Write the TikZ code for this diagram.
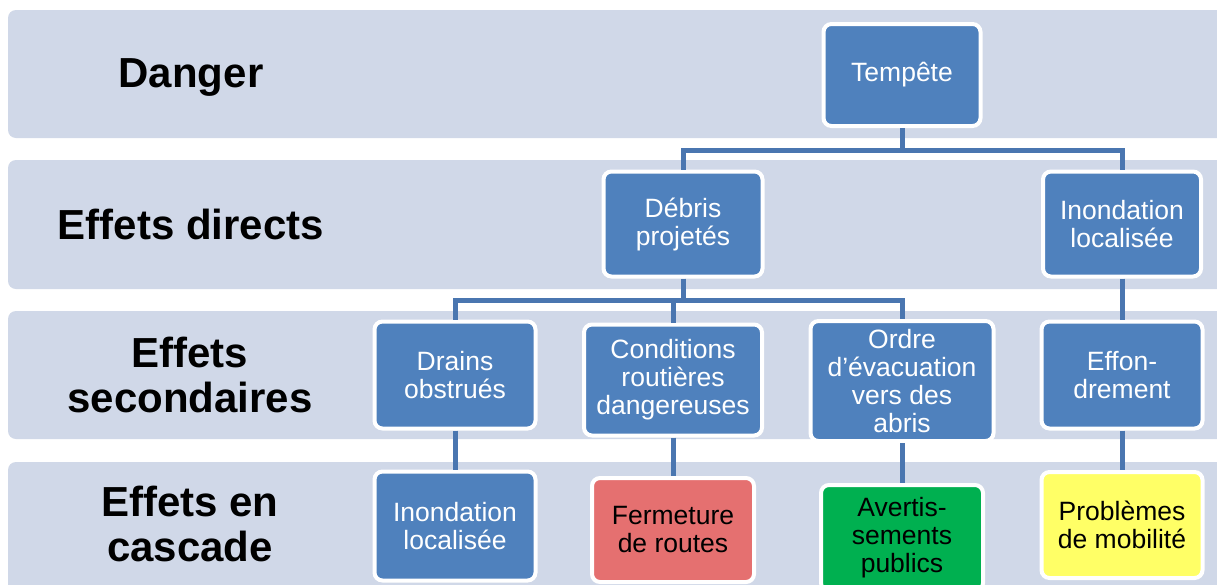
\documentclass[tikz,border=0pt]{standalone}
\usepackage{fontspec}
\setmainfont{Liberation Sans}
\definecolor{bandcol}{HTML}{D0D8E8}
\definecolor{nblue}{HTML}{4F81BD}
\definecolor{lineblue}{HTML}{4A76B0}
\definecolor{nred}{HTML}{E57070}
\definecolor{ngreen}{HTML}{00B050}
\definecolor{nyellow}{HTML}{FFFF66}
\begin{document}
\begin{tikzpicture}[x=1pt,y=-1pt,
  bandbox/.style={fill=bandcol, rounded corners=8pt},
  box/.style={draw=white, line width=4pt, rounded corners=8pt, fill=nblue, text=white,
    font=\fontsize{26.5}{28}\selectfont, align=center, inner sep=0pt},
  lab/.style={font=\fontsize{42}{45}\selectfont\bfseries, align=center, text=black},
  conn/.style={draw=lineblue, line width=5pt}]
\useasboundingbox (0,0) rectangle (1217,584);
\fill[white] (0,0) rectangle (1217,584);
\clip (0,0) rectangle (1217,584);
% bands
\path[bandbox] (8,10) rectangle (1240,138);
\path[bandbox] (8,160) rectangle (1240,289);
\path[bandbox] (8,311) rectangle (1240,439);
\path[bandbox] (8,462) rectangle (1240,620);
% labels
\node[lab] (L1) at (191,77) {Danger};
\node[lab] (L2) at (191,224) {Effets directs};
\node[lab] (L3) at (190,375) {Effets\\secondaires};
\node[lab] (L4) at (190,524) {Effets en\\cascade};
% nodes
\node[box, minimum width=157pt, minimum height=102pt] (T) at (902,75) {Tempête};
\node[box, minimum width=159pt, minimum height=105pt] (D) at (683,224) {Débris\\projetés};
\node[box, minimum width=158pt, minimum height=105pt] (I1) at (1122,224) {Inondation\\localisée};
\node[box, minimum width=161pt, minimum height=107pt] (Dr) at (455,375) {Drains\\obstrués};
\node[box, minimum width=178pt, minimum height=111pt] (C) at (673,380) {Conditions\\routières\\dangereuses};
\node[box, minimum width=183pt, minimum height=120pt] (O) at (902,381) {Ordre\\d’évacuation\\vers des\\abris};
\node[box, minimum width=161pt, minimum height=107pt] (E) at (1122,375) {Effon-\\drement};
\node[box, minimum width=161pt, minimum height=109pt] (I2) at (455,526) {Inondation\\localisée};
\node[box, fill=nred, text=black, minimum width=162pt, minimum height=104pt] (F) at (673,530) {Fermeture\\de routes};
\node[box, fill=ngreen, text=black, minimum width=162pt, minimum height=106pt] (A) at (902,538) {Avertis-\\sements\\publics};
\node[box, fill=nyellow, text=black, minimum width=161pt, minimum height=106pt] (P) at (1122,525) {Problèmes\\de mobilité};
% connectors
\coordinate (bus1) at (0,150);
\coordinate (bus2) at (0,300);
\draw[conn] (T.south) -- (T.south |- bus1);
\draw[conn] (D.north) |- (I1.north |- bus1) -- (I1.north);
\draw[conn] (D.south) -- (D.south |- bus2);
\draw[conn] (Dr.north) |- (O.north |- bus2) -- (O.north);
\draw[conn] (C.north) -- (C.north |- bus2);
\draw[conn] (I1.south) -- (E.north);
\draw[conn] (Dr.south) -- (I2.north);
\draw[conn] (C.south) -- (F.north);
\draw[conn] (O.south) -- (A.north);
\draw[conn] (E.south) -- (P.north);
\end{tikzpicture}
\end{document}
